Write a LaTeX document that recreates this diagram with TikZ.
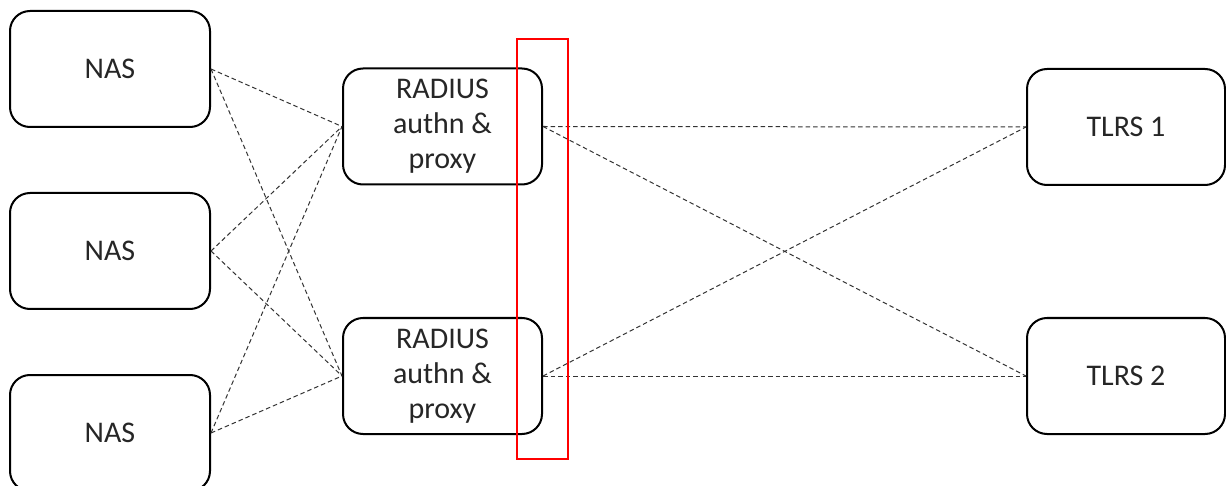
\documentclass[tikz,border=0pt]{standalone}
\usepackage{fontspec}
\setmainfont{Carlito}
\begin{document}
\begin{tikzpicture}[x=1pt,y=-1pt,
  box/.style={draw=black,line width=2pt,rounded corners=20pt,fill=white,
    minimum width=#1,minimum height=116pt,inner sep=0pt,align=center,
    font=\fontsize{30}{35}\selectfont,text=black!85},
  box/.default=200pt,
  link/.style={draw=black!80,line width=1pt,dash pattern=on 4.5pt off 3pt},
  hl/.style={draw=red,line width=2.5pt,minimum width=51pt,minimum height=420pt,inner sep=0pt}]
\useasboundingbox (0,0) rectangle (1226,486);
\clip (0,0) rectangle (1226,486);
\node[box] (nas1) at (110,69) {NAS};
\node[box] (nas2) at (110,251) {NAS};
\node[box] (nas3) at (110,433) {NAS};
\node[box=199pt] (r1) at (442.5,126.5) {RADIUS\\authn \&\\proxy};
\node[box=199pt] (r2) at (442.5,376) {RADIUS\\authn \&\\proxy};
\node[box=198pt] (t1) at (1126,127) {TLRS 1};
\node[box=198pt] (t2) at (1126,376) {TLRS 2};
\foreach \a in {nas1,nas2,nas3}{
  \draw[link] (\a.east) -- (r1.west);
  \draw[link] (\a.east) -- (r2.west);
}
\foreach \a in {r1,r2}{
  \draw[link] (\a.east) -- (t1.west);
  \draw[link] (\a.east) -- (t2.west);
}
\node[hl] (redbox) at (542.5,249) {};
\end{tikzpicture}
\end{document}
